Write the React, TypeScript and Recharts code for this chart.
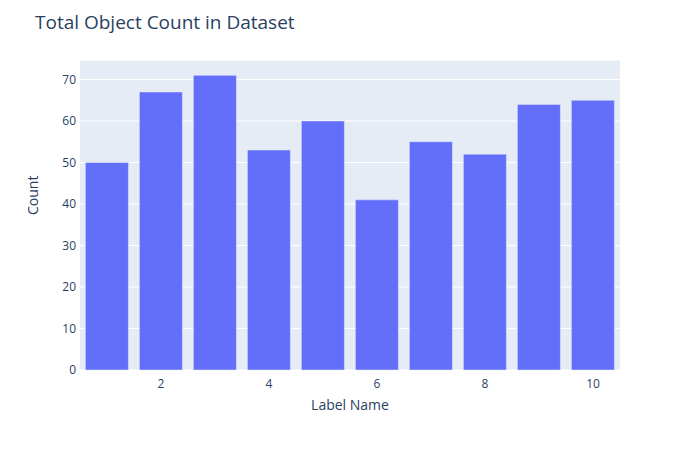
import React from 'react';
import { BarChart, Bar, XAxis, YAxis, CartesianGrid } from 'recharts';

const labels = [1, 2, 3, 4, 5, 6, 7, 8, 9, 10];
const counts = [50, 67, 71, 53, 60, 41, 55, 52, 64, 65];
const yTicks = [0, 10, 20, 30, 40, 50, 60, 70];

const data = labels.map((label, i) => ({ label, count: counts[i] }));

const font = '"Open Sans", verdana, arial, sans-serif';
const textColor = '#2a3f5f';

const App: React.FC = () => {
  return (
    <div style={{ position: 'absolute', left: 0, top: 0, width: 700, height: 450, background: '#fff', fontFamily: font }}>
      <div style={{ position: 'absolute', left: 35, top: 9, fontSize: 19, color: textColor, fontFamily: font }}>
        Total Object Count in Dataset
      </div>
      <BarChart
        width={700}
        height={450}
        data={data}
        margin={{ top: 60, right: 80, left: 0, bottom: 0 }}
        barCategoryGap="10%"
      >
        <CartesianGrid vertical={false} fill="#E5ECF6" stroke="#ffffff" strokeWidth={1} />
        <XAxis
          dataKey="label"
          height={80}
          axisLine={false}
          tickLine={false}
          tickSize={0}
          tickMargin={9}
          tick={{ fontSize: 12, fill: textColor, fontFamily: font }}
          tickFormatter={(v: number) => (v % 2 === 0 ? String(v) : '')}
          label={{ value: 'Label Name', position: 'insideTop', offset: 30, fontSize: 14, fill: textColor, fontFamily: font }}
        />
        <YAxis
          width={80}
          domain={[0, 74.7]}
          ticks={yTicks}
          axisLine={false}
          tickLine={false}
          tickSize={0}
          tickMargin={4}
          tick={{ fontSize: 12, fill: textColor, fontFamily: font }}
          label={{ value: 'Count', angle: -90, position: 'insideLeft', offset: 33, fontSize: 14, fill: textColor, fontFamily: font }}
        />
        <Bar dataKey="count" fill="#636EFA" stroke="#E5ECF6" strokeWidth={0.5} isAnimationActive={false} />
      </BarChart>
    </div>
  );
};

export default App;
